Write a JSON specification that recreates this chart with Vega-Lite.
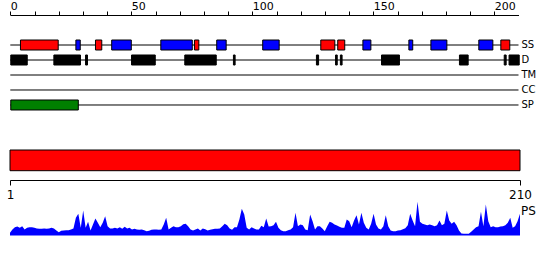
{
  "$schema": "https://vega.github.io/schema/vega-lite/v6.json",
  "width": 550,
  "height": 245,
  "autosize": {"type": "none"},
  "padding": {"left": 0, "top": 15, "right": 0, "bottom": 0},
  "background": "white",
  "config": {"view": {"stroke": null}, "font": "DejaVu Sans", "axis": {"grid": false}},
  "datasets": {
    "tracks": [
      {"track": "SS", "start": 0, "end": 210},
      {"track": "D", "start": 0, "end": 210},
      {"track": "TM", "start": 0, "end": 210},
      {"track": "CC", "start": 0, "end": 210},
      {"track": "SP", "start": 0, "end": 210}
    ],
    "features": [
      {"track": "SS", "kind": "H", "start": 4.2, "end": 19.8},
      {"track": "SS", "kind": "E", "start": 27.1, "end": 28.9},
      {"track": "SS", "kind": "H", "start": 35.2, "end": 37.8},
      {"track": "SS", "kind": "E", "start": 41.9, "end": 50},
      {"track": "SS", "kind": "E", "start": 62.2, "end": 75.2},
      {"track": "SS", "kind": "H", "start": 76.1, "end": 77.9},
      {"track": "SS", "kind": "E", "start": 85.3, "end": 89.2},
      {"track": "SS", "kind": "E", "start": 104.3, "end": 111.1},
      {"track": "SS", "kind": "H", "start": 128.3, "end": 134.1},
      {"track": "SS", "kind": "H", "start": 135.3, "end": 138.2},
      {"track": "SS", "kind": "E", "start": 145.7, "end": 149},
      {"track": "SS", "kind": "E", "start": 164.7, "end": 166.3},
      {"track": "SS", "kind": "E", "start": 173.8, "end": 180.4},
      {"track": "SS", "kind": "E", "start": 193.6, "end": 199.4},
      {"track": "SS", "kind": "H", "start": 202.7, "end": 206.4},
      {"track": "D", "kind": "D", "start": 0.2, "end": 7},
      {"track": "D", "kind": "D", "start": 18, "end": 29},
      {"track": "D", "kind": "D", "start": 31.1, "end": 31.9},
      {"track": "D", "kind": "D", "start": 50.1, "end": 59.9},
      {"track": "D", "kind": "D", "start": 72.1, "end": 85.1},
      {"track": "D", "kind": "D", "start": 92.2, "end": 92.9},
      {"track": "D", "kind": "D", "start": 126.5, "end": 127.4},
      {"track": "D", "kind": "D", "start": 134.4, "end": 135.1},
      {"track": "D", "kind": "D", "start": 136.4, "end": 137.1},
      {"track": "D", "kind": "D", "start": 153.4, "end": 160.8},
      {"track": "D", "kind": "D", "start": 185.6, "end": 189.2},
      {"track": "D", "kind": "D", "start": 204.1, "end": 204.9},
      {"track": "D", "kind": "D", "start": 206.1, "end": 210.3},
      {"track": "SP", "kind": "SP", "start": 0.2, "end": 28.1}
    ],
    "protein": [{"name": "protein", "start": 1, "end": 210}],
    "ps": [
      {"pos":1,"value":2.7},{"pos":2,"value":6},{"pos":3,"value":8.3},{"pos":4,"value":9},{"pos":5,"value":7.7},
      {"pos":6,"value":9.3},{"pos":7,"value":6},{"pos":8,"value":7.7},{"pos":9,"value":8.3},{"pos":10,"value":8.3},
      {"pos":11,"value":7.7},{"pos":12,"value":7},{"pos":13,"value":6.7},{"pos":14,"value":6.7},{"pos":15,"value":7},
      {"pos":16,"value":6.7},{"pos":17,"value":7},{"pos":18,"value":7.7},{"pos":19,"value":7},{"pos":20,"value":5},
      {"pos":21,"value":3.3},{"pos":22,"value":4.7},{"pos":23,"value":5},{"pos":24,"value":5.3},{"pos":25,"value":5.3},
      {"pos":26,"value":6},{"pos":27,"value":7},{"pos":28,"value":17.7},{"pos":29,"value":21.7},{"pos":30,"value":7.7},
      {"pos":31,"value":25},{"pos":32,"value":7.7},{"pos":33,"value":13.7},{"pos":34,"value":5},{"pos":35,"value":11},
      {"pos":36,"value":17},{"pos":37,"value":12.7},{"pos":38,"value":8.3},{"pos":39,"value":12.7},{"pos":40,"value":19.3},
      {"pos":41,"value":9.3},{"pos":42,"value":7},{"pos":43,"value":7},{"pos":44,"value":7.7},{"pos":45,"value":7},
      {"pos":46,"value":8.3},{"pos":47,"value":6.7},{"pos":48,"value":8.7},{"pos":49,"value":7},{"pos":50,"value":7.7},
      {"pos":51,"value":6},{"pos":52,"value":6.7},{"pos":53,"value":6},{"pos":54,"value":5.7},{"pos":55,"value":6},
      {"pos":56,"value":5.3},{"pos":57,"value":4.3},{"pos":58,"value":4.7},{"pos":59,"value":5.7},{"pos":60,"value":6},
      {"pos":61,"value":6},{"pos":62,"value":5.7},{"pos":63,"value":6},{"pos":64,"value":11},{"pos":65,"value":17.7},
      {"pos":66,"value":6},{"pos":67,"value":7.7},{"pos":68,"value":9.3},{"pos":69,"value":8.3},{"pos":70,"value":8.3},
      {"pos":71,"value":9.3},{"pos":72,"value":11.3},{"pos":73,"value":11.7},{"pos":74,"value":9.3},{"pos":75,"value":6},
      {"pos":76,"value":5},{"pos":77,"value":6},{"pos":78,"value":7},{"pos":79,"value":5},{"pos":80,"value":7},
      {"pos":81,"value":6.3},{"pos":82,"value":5},{"pos":83,"value":5.7},{"pos":84,"value":6.3},{"pos":85,"value":6.7},
      {"pos":86,"value":6.7},{"pos":87,"value":7},{"pos":88,"value":9.3},{"pos":89,"value":11.7},{"pos":90,"value":10.3},
      {"pos":91,"value":7},{"pos":92,"value":5.7},{"pos":93,"value":8.3},{"pos":94,"value":8.3},{"pos":95,"value":16},
      {"pos":96,"value":26.7},{"pos":97,"value":21},{"pos":98,"value":7.7},{"pos":99,"value":6},{"pos":100,"value":8.3},
      {"pos":101,"value":7},{"pos":102,"value":6},{"pos":103,"value":6},{"pos":104,"value":9.7},{"pos":105,"value":8.3},
      {"pos":106,"value":17},{"pos":107,"value":9},{"pos":108,"value":9.3},{"pos":109,"value":10.3},{"pos":110,"value":13.7},
      {"pos":111,"value":7.7},{"pos":112,"value":5.3},{"pos":113,"value":4.3},{"pos":114,"value":4.3},{"pos":115,"value":5.3},
      {"pos":116,"value":6},{"pos":117,"value":8.3},{"pos":118,"value":22.7},{"pos":119,"value":9.3},{"pos":120,"value":11},
      {"pos":121,"value":10.3},{"pos":122,"value":6},{"pos":123,"value":5.3},{"pos":124,"value":21},{"pos":125,"value":14.3},
      {"pos":126,"value":6},{"pos":127,"value":9.3},{"pos":128,"value":9.3},{"pos":129,"value":7},{"pos":130,"value":4.3},
      {"pos":131,"value":9.3},{"pos":132,"value":13.7},{"pos":133,"value":12.7},{"pos":134,"value":11},{"pos":135,"value":10},
      {"pos":136,"value":8.7},{"pos":137,"value":7.7},{"pos":138,"value":7.7},{"pos":139,"value":16},{"pos":140,"value":14.3},
      {"pos":141,"value":8.3},{"pos":142,"value":15},{"pos":143,"value":20.3},{"pos":144,"value":11},{"pos":145,"value":22.7},
      {"pos":146,"value":12.7},{"pos":147,"value":7.7},{"pos":148,"value":6},{"pos":149,"value":11.7},{"pos":150,"value":21.7},
      {"pos":151,"value":11},{"pos":152,"value":7},{"pos":153,"value":6},{"pos":154,"value":9.3},{"pos":155,"value":20.3},
      {"pos":156,"value":9.3},{"pos":157,"value":5},{"pos":158,"value":4.3},{"pos":159,"value":4.3},{"pos":160,"value":5},
      {"pos":161,"value":5.3},{"pos":162,"value":6.3},{"pos":163,"value":7.3},{"pos":164,"value":10.3},{"pos":165,"value":21.7},
      {"pos":166,"value":15},{"pos":167,"value":9.3},{"pos":168,"value":33.7},{"pos":169,"value":13.7},{"pos":170,"value":11.7},
      {"pos":171,"value":11},{"pos":172,"value":10.3},{"pos":173,"value":11},{"pos":174,"value":10.3},{"pos":175,"value":9.3},
      {"pos":176,"value":10.3},{"pos":177,"value":15},{"pos":178,"value":10.3},{"pos":179,"value":11.7},{"pos":180,"value":25},
      {"pos":181,"value":15},{"pos":182,"value":11.7},{"pos":183,"value":13.7},{"pos":184,"value":10.3},{"pos":185,"value":5},
      {"pos":186,"value":2},{"pos":187,"value":1.7},{"pos":188,"value":1.7},{"pos":189,"value":1.7},{"pos":190,"value":3.7},
      {"pos":191,"value":6},{"pos":192,"value":8.3},{"pos":193,"value":9.3},{"pos":194,"value":23.7},{"pos":195,"value":9.3},
      {"pos":196,"value":31},{"pos":197,"value":14.3},{"pos":198,"value":8.3},{"pos":199,"value":9.3},{"pos":200,"value":8.3},
      {"pos":201,"value":8.3},{"pos":202,"value":9},{"pos":203,"value":9.3},{"pos":204,"value":10.3},{"pos":205,"value":12.7},
      {"pos":206,"value":17.7},{"pos":207,"value":7.7},{"pos":208,"value":9.3},{"pos":209,"value":14.3},{"pos":210,"value":21.7}
    ]
  },
  "layer": [
    {
      "layer": [
        {
          "data": {"name": "tracks"},
          "mark": {"type": "rule", "color": "black", "strokeWidth": 1},
          "encoding": {
            "x": {
              "field": "start", "type": "quantitative",
              "scale": {"domain": [0, 210], "range": [10.3, 518.5], "nice": false, "zero": false},
              "axis": {
                "orient": "top", "title": null,
                "values": [0, 10, 20, 30, 40, 50, 60, 70, 80, 90, 100, 110, 120, 130, 140, 150, 160, 170, 180, 190, 200],
                "labels": false,
                "tickSize": 4, "tickColor": "black", "tickWidth": 1,
                "domainColor": "black", "domainWidth": 1
              }
            },
            "x2": {"field": "end"},
            "y": {
              "field": "track", "type": "nominal",
              "scale": {"type": "band", "domain": ["SS", "D", "TM", "CC", "SP"], "range": [22.5, 97.5], "paddingInner": 0.3333, "paddingOuter": 0.16667},
              "axis": null
            }
          }
        },
        {
          "data": {"name": "features"},
          "mark": {"type": "bar", "stroke": "black", "strokeWidth": 1, "opacity": 1},
          "encoding": {
            "x": {
              "field": "start", "type": "quantitative",
              "axis": {
                "orient": "top", "title": null,
                "values": [0, 50, 100, 150, 200],
                "domain": false, "ticks": false,
                "labelAlign": "left", "labelBaseline": "alphabetic", "labelPadding": 6,
                "labelFontSize": 11, "labelColor": "black", "labelFont": "DejaVu Sans",
                "labelFlush": false, "labelOverlap": false
              }
            },
            "x2": {"field": "end"},
            "y": {"field": "track", "type": "nominal"},
            "color": {
              "field": "kind", "type": "nominal",
              "scale": {"domain": ["H", "E", "D", "SP"], "range": ["#ff0000", "#0000ff", "#000000", "#008000"]},
              "legend": null
            }
          }
        },
        {
          "data": {"name": "tracks"},
          "mark": {"type": "text", "align": "left", "baseline": "middle", "dx": 3, "fontSize": 10, "font": "DejaVu Sans", "color": "black"},
          "encoding": {
            "x": {"field": "end", "type": "quantitative", "axis": null},
            "y": {"field": "track", "type": "nominal"},
            "text": {"field": "track"}
          }
        }
      ],
      "resolve": {"axis": {"x": "independent"}}
    },
    {
      "data": {"name": "protein"},
      "mark": {"type": "bar", "color": "#ff0000", "stroke": "black", "strokeWidth": 1},
      "encoding": {
        "x": {
          "field": "start", "type": "quantitative",
          "scale": {"domain": [1, 210], "range": [10, 520], "nice": false, "zero": false},
          "axis": {
            "orient": "bottom", "title": null, "values": [1, 210], "offset": -80,
            "labelAlign": "center", "labelBaseline": "top", "labelPadding": 4,
            "labelFontSize": 12, "labelColor": "black", "labelFont": "DejaVu Sans",
            "labelFlush": false, "labelOverlap": false,
            "tickSize": 5, "tickColor": "black", "tickWidth": 1,
            "domainColor": "black", "domainWidth": 1
          }
        },
        "x2": {"field": "end"},
        "y": {
          "field": "name", "type": "nominal",
          "scale": {"type": "band", "range": [135, 155.7], "paddingInner": 0, "paddingOuter": 0},
          "axis": null
        }
      }
    },
    {
      "layer": [
        {
          "data": {"name": "ps"},
          "mark": {"type": "area", "color": "#0000ff", "opacity": 1},
          "encoding": {
            "x": {
              "field": "pos", "type": "quantitative",
              "scale": {"domain": [1, 210], "range": [10, 520], "nice": false, "zero": false},
              "axis": null
            },
            "y": {
              "field": "value", "type": "quantitative",
              "scale": {"domain": [0, 35], "range": [220.5, 185.5], "nice": false, "zero": true},
              "axis": null
            }
          }
        },
        {
          "data": {"values": [{"pos": 210, "value": 24.5, "label": "PS"}]},
          "mark": {"type": "text", "align": "left", "baseline": "middle", "dx": 1, "fontSize": 12, "font": "DejaVu Sans", "color": "black"},
          "encoding": {
            "x": {"field": "pos", "type": "quantitative"},
            "y": {"field": "value", "type": "quantitative"},
            "text": {"field": "label"}
          }
        }
      ]
    }
  ],
  "resolve": {"scale": {"x": "independent", "y": "independent", "color": "independent"}}
}
